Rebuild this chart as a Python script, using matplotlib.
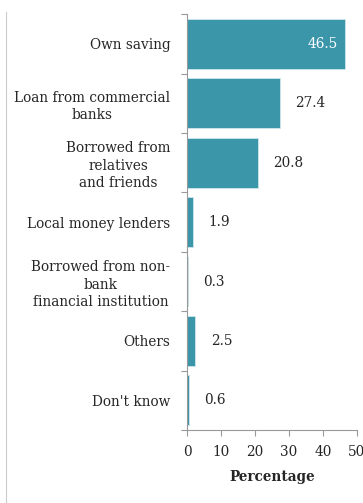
import matplotlib
matplotlib.use("Agg")
import matplotlib.pyplot as plt
from matplotlib.lines import Line2D

categories = [
    "Own saving",
    "Loan from commercial\nbanks",
    "Borrowed from\nrelatives\nand friends",
    "Local money lenders",
    "Borrowed from non-\nbank\nfinancial institution",
    "Others",
    "Don't know",
]
values = [46.5, 27.4, 20.8, 1.9, 0.3, 2.5, 0.6]
xticks = [0, 10, 20, 30, 40, 50]

bar_color = "#3c96aa"
text_color = "#262626"
plt.rcParams["font.family"] = "DejaVu Serif"

fig = plt.figure(figsize=(3.63, 5.03), dpi=100)
ax = fig.add_axes([0.515, 0.145, 0.468, 0.827])

pos = list(range(len(categories)))
ax.barh(pos, values, height=0.84, color=bar_color, edgecolor="#cfe6eb", linewidth=0.6)
ax.set_ylim(len(categories) - 0.5, -0.5)
ax.set_xlim(0, 50)

ax.set_yticks([p - 0.5 for p in pos] + [len(categories) - 0.5], minor=True)
ax.set_yticks(pos)
ax.set_yticklabels(categories, fontsize=9.8, color=text_color)
for lbl in ax.get_yticklabels():
    lbl.set_multialignment("center")
    lbl.set_linespacing(1.3)
ax.tick_params(axis="y", which="major", length=0, pad=12)
ax.tick_params(axis="y", which="minor", length=4, color="#999999", width=0.8)

ax.set_xticks(xticks)
ax.tick_params(axis="x", length=4, color="#999999", width=0.8, labelsize=9.8,
               labelcolor=text_color, pad=7)
ax.set_xlabel("Percentage", fontsize=9.8, fontweight="bold", color=text_color, labelpad=8)

for s in ["top", "right"]:
    ax.spines[s].set_visible(False)
for s in ["left", "bottom"]:
    ax.spines[s].set_color("#999999")
    ax.spines[s].set_linewidth(0.8)

# value labels: inside the long bar, to the right of the rest
for p, v in zip(pos, values):
    if v > 40:
        ax.annotate(f"{v}", (v, p), xytext=(-5, 0), textcoords="offset points",
                    ha="right", va="center", fontsize=9.8, color="white")
    else:
        ax.annotate(f"{v}", (v, p), xytext=(11, 0), textcoords="offset points",
                    ha="left", va="center", fontsize=9.8, color=text_color)

# thin frame line down the left side
fig.add_artist(Line2D([6 / 363, 6 / 363], [0, 1 - 12 / 503], transform=fig.transFigure,
                      color="#cccccc", linewidth=0.8))

fig.savefig("out.png", dpi=100)
